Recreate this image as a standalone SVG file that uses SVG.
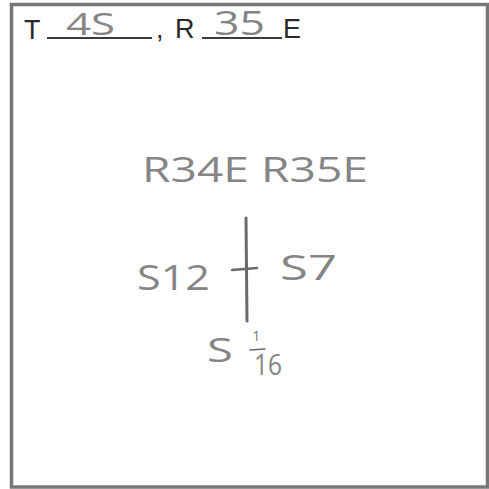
<svg xmlns="http://www.w3.org/2000/svg" width="489" height="489" viewBox="0 0 489 489">
<style>
.pr{font-family:"Liberation Sans",Arial,sans-serif;fill:#2a2a2a;font-size:27px}
.hw{font-family:"Open Sans","Liberation Sans",sans-serif;font-weight:400;fill:#858585}
.ln{stroke:#6a6a6a;stroke-linecap:round;fill:none}
</style>
<rect x="0" y="0" width="489" height="489" fill="#ffffff"/>
<rect id="frame" x="11.5" y="4.5" width="476" height="482.5" fill="none" stroke="#777777" stroke-width="3.5"/>
<g id="header">
<text class="pr" x="24" y="39">T</text>
<line x1="47" y1="38" x2="152" y2="38" stroke="#3a3a3a" stroke-width="2.2"/>
<text class="pr" x="156" y="38">,</text>
<text class="pr" x="175" y="38">R</text>
<line x1="202" y1="38" x2="282" y2="38" stroke="#3a3a3a" stroke-width="2.2"/>
<text class="pr" x="283" y="38">E</text>
<text class="hw" x="66" y="35" font-size="31" textLength="49" lengthAdjust="spacingAndGlyphs">4S</text>
<text class="hw" x="214" y="35" font-size="33" textLength="51" lengthAdjust="spacingAndGlyphs">35</text>
</g>
<g id="ranges">
<text class="hw" x="142" y="182" font-size="35" textLength="226" lengthAdjust="spacingAndGlyphs">R34E R35E</text>
</g>
<g id="connectors">
<line class="ln" x1="246" y1="218" x2="247" y2="321" stroke-width="3"/>
<line class="ln" x1="232" y1="270" x2="257" y2="268" stroke-width="2.5"/>
<line class="ln" x1="250" y1="350" x2="265" y2="349" stroke-width="1.5"/>
</g>
<g id="s12">
<text class="hw" x="137" y="290" font-size="34" textLength="73" lengthAdjust="spacingAndGlyphs">S12</text>
</g>
<g id="s7">
<text class="hw" x="280" y="280" font-size="34" textLength="57" lengthAdjust="spacingAndGlyphs">S7</text>
</g>
<g id="s16">
<text class="hw" x="207" y="362" font-size="33" textLength="26" lengthAdjust="spacingAndGlyphs">S</text>
<text class="hw" x="252" y="341" font-size="15" fill="#707070">1</text>
<text class="hw" x="254" y="375" font-size="30" textLength="28" lengthAdjust="spacingAndGlyphs">16</text>
</g>
</svg>
